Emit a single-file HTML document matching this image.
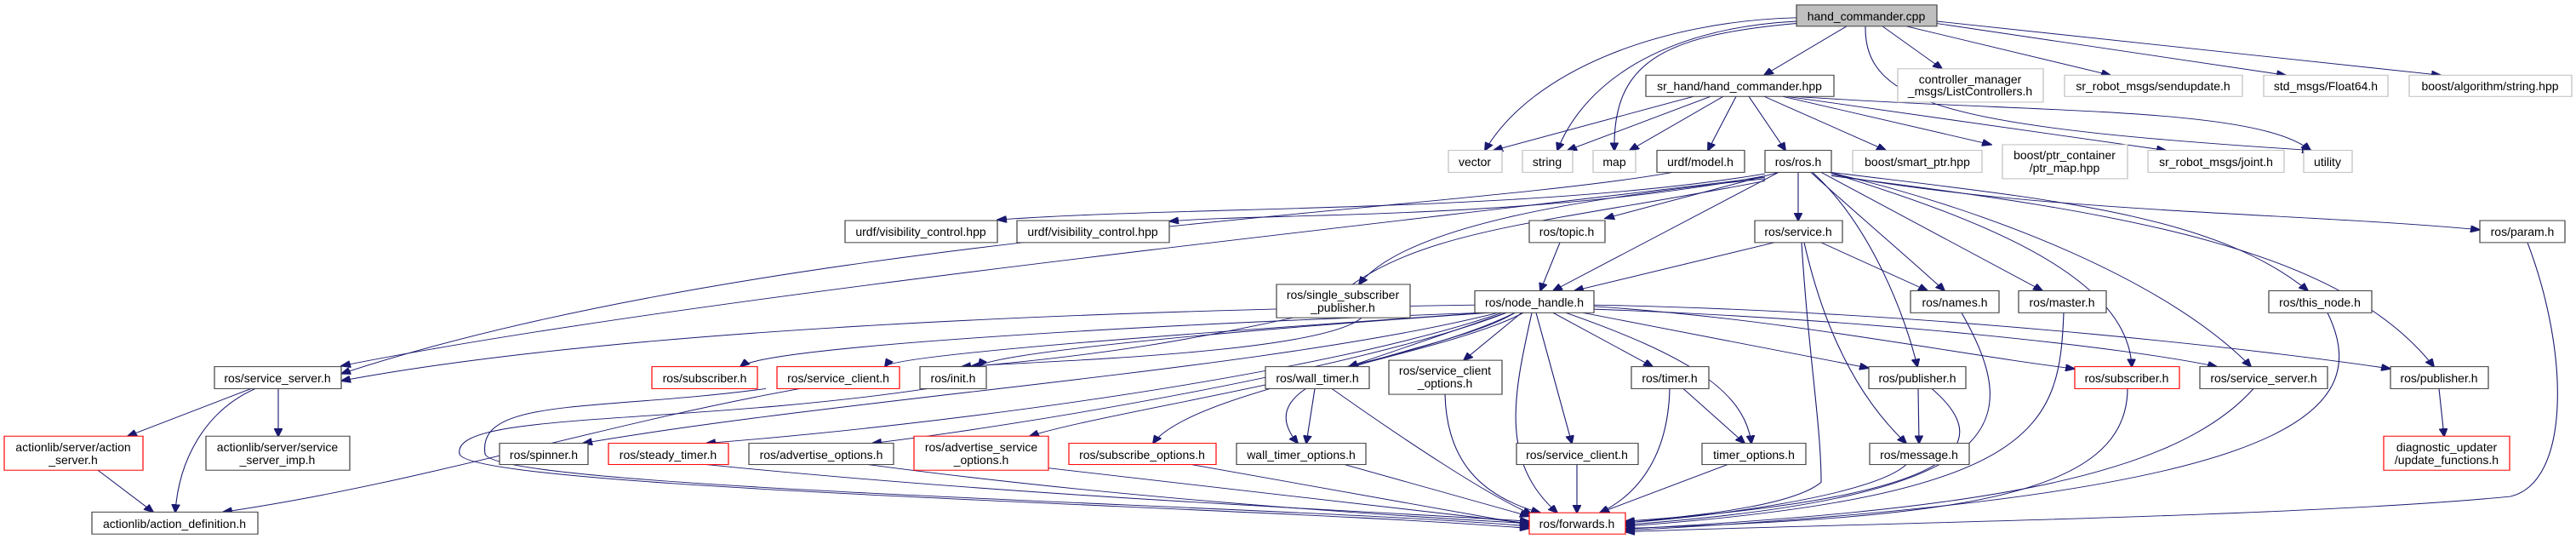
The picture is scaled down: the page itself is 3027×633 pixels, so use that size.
<!DOCTYPE html>
<html><head><meta charset="utf-8"><style>
html,body{margin:0;padding:0;background:#fff;overflow:hidden;}
svg{display:block;}
text{font-family:"Liberation Sans",sans-serif;font-size:14px;fill:#000;}
.b{fill:#fff;stroke:#404040;stroke-width:1.2}
.g{fill:#fff;stroke:#bfbfbf;stroke-width:1.2}
.r{fill:#fff;stroke:#ff0000;stroke-width:1.2}
path.e{fill:none;stroke:#191970;stroke-width:1.1;marker-end:url(#a)}
</style></head><body>
<svg width="3027" height="633" viewBox="0 0 3027 633" xmlns="http://www.w3.org/2000/svg">
<defs><marker id="a" markerWidth="12" markerHeight="10" refX="11" refY="5" orient="auto" markerUnits="userSpaceOnUse"><path d="M0,0 L12,5 L0,10 z" fill="#191970" stroke="#191970"/></marker></defs>
<g transform="scale(1,0.8329)">
<path class="e" d="M2111,25 C1950,30 1800,100 1745,212"/>
<path class="e" d="M2111,30 C1950,40 1860,120 1830,212"/>
<path class="e" d="M2111,33 C1950,50 1895,90 1897,212"/>
<path class="e" d="M2170,37 L2073,106"/>
<path class="e" d="M2192,37 C2190,150 2300,180 2716,212"/>
<path class="e" d="M2212,37 L2282,97"/>
<path class="e" d="M2240,37 L2480,106"/>
<path class="e" d="M2270,32 L2686,106"/>
<path class="e" d="M2276,30 L2868,106"/>
<path class="e" d="M1990,136 L1755,212"/>
<path class="e" d="M2010,136 L1842,212"/>
<path class="e" d="M2025,136 L1915,212"/>
<path class="e" d="M2040,136 L2007,212"/>
<path class="e" d="M2055,136 L2098,212"/>
<path class="e" d="M2073,136 L2216,212"/>
<path class="e" d="M2095,136 L2340,204"/>
<path class="e" d="M2100,136 L2545,212"/>
<path class="e" d="M2110,136 C2400,160 2650,150 2715,212"/>
<path class="e" d="M2090,243 L1886,308"/>
<path class="e" d="M2113,243 L2113,311"/>
<path class="e" d="M2090,243 L1825,410"/>
<path class="e" d="M2128,243 C2180,300 2230,350 2285,410"/>
<path class="e" d="M2140,243 L2400,410"/>
<path class="e" d="M2150,243 C2300,300 2500,380 2505,517"/>
<path class="e" d="M2150,243 C2350,300 2550,400 2645,517"/>
<path class="e" d="M2152,243 C2400,280 2600,300 2712,410"/>
<path class="e" d="M2152,246 C2400,300 2700,300 2914,324"/>
<path class="e" d="M2152,248 C2500,300 2750,350 2860,517"/>
<path class="e" d="M2130,243 C2200,320 2240,450 2253,517"/>
<path class="e" d="M2074,245 C1800,300 1400,290 1172,310"/>
<path class="e" d="M2074,248 C1800,310 1500,300 1374,312"/>
<path class="e" d="M2074,250 C1600,320 800,420 401,516"/>
<path class="e" d="M2074,252 C1850,280 1650,320 1597,401"/>
<path class="e" d="M2074,255 C1800,320 1650,320 1550,440 C1400,480 1300,500 1140,517"/>
<path class="e" d="M1965,243 C1700,300 900,330 401,527"/>
<path class="e" d="M1833,342 L1810,410"/>
<path class="e" d="M2085,342 L1850,410"/>
<path class="e" d="M2140,342 L2265,410"/>
<path class="e" d="M2117,342 C2125,500 2140,600 2140,680 C2100,720 1950,730 1910,738"/>
<path class="e" d="M2120,342 C2150,500 2200,580 2240,625"/>
<path class="e" d="M1600,448 C1550,500 1200,510 1130,517"/>
<path class="e" d="M1733,430 C1200,440 700,470 401,537"/>
<path class="e" d="M1740,441 C1300,460 900,490 870,517"/>
<path class="e" d="M1745,441 C1400,470 1050,500 1040,517"/>
<path class="e" d="M1750,441 C1400,470 1160,500 1150,517"/>
<path class="e" d="M1760,441 C1500,520 1000,560 685,625"/>
<path class="e" d="M1765,441 C1550,530 1100,600 830,625"/>
<path class="e" d="M1770,441 C1600,520 1200,600 1025,625"/>
<path class="e" d="M1780,441 C1650,520 1300,580 1210,615"/>
<path class="e" d="M1790,441 C1700,500 1400,550 1355,625"/>
<path class="e" d="M1770,441 L1585,517"/>
<path class="e" d="M1780,441 C1700,500 1450,520 1525,625"/>
<path class="e" d="M1788,441 L1720,508"/>
<path class="e" d="M1805,441 L1847,625"/>
<path class="e" d="M1800,441 C1780,550 1760,650 1830,723"/>
<path class="e" d="M1825,441 L1942,517"/>
<path class="e" d="M1840,441 C1980,500 2050,550 2058,625"/>
<path class="e" d="M1860,441 L2196,519"/>
<path class="e" d="M1873,432 C2100,450 2300,500 2438,520"/>
<path class="e" d="M1873,436 C2200,450 2500,490 2605,517"/>
<path class="e" d="M1873,430 C2300,440 2700,500 2809,520"/>
<path class="e" d="M295,548 L150,615"/>
<path class="e" d="M327,548 L327,615"/>
<path class="e" d="M300,548 C240,580 210,650 206,722"/>
<path class="e" d="M115,663 L180,722"/>
<path class="e" d="M940,548 C700,600 500,680 262,722"/>
<path class="e" d="M1090,548 C800,600 530,580 540,640 C550,690 1500,715 1797,745"/>
<path class="e" d="M900,548 C700,580 560,560 570,640 C580,690 1500,712 1797,742"/>
<path class="e" d="M1545,548 L1535,625"/>
<path class="e" d="M1565,548 C1650,620 1750,700 1800,725"/>
<path class="e" d="M1698,556 C1700,650 1740,700 1810,723"/>
<path class="e" d="M1962,548 C1960,650 1920,700 1880,723"/>
<path class="e" d="M1978,548 L2050,625"/>
<path class="e" d="M1853,655 L1853,723"/>
<path class="e" d="M2030,655 L1880,723"/>
<path class="e" d="M2254,548 L2255,625"/>
<path class="e" d="M2270,548 C2340,620 2330,700 1910,735"/>
<path class="e" d="M2240,655 C2200,700 2000,730 1910,737"/>
<path class="e" d="M2305,441 C2380,600 2360,700 1910,740"/>
<path class="e" d="M2425,441 C2420,600 2400,700 1910,742"/>
<path class="e" d="M2500,548 C2500,700 2300,730 1910,745"/>
<path class="e" d="M2648,548 C2550,680 2300,720 1910,746"/>
<path class="e" d="M2735,441 C2800,600 2650,700 1910,748"/>
<path class="e" d="M2970,342 C3020,500 3020,680 2950,700 C2700,730 2100,740 1910,750"/>
<path class="e" d="M2866,548 L2872,615"/>
<path class="e" d="M830,655 C1200,700 1600,720 1797,735"/>
<path class="e" d="M1020,655 C1300,700 1600,725 1797,738"/>
<path class="e" d="M1232,660 L1797,738"/>
<path class="e" d="M1400,655 L1797,740"/>
<path class="e" d="M1580,655 L1797,728"/>
<rect x="2111" y="7" width="165" height="30" fill="#bfbfbf" stroke="#404040" stroke-width="1.2"/>
<rect class="b" x="1934" y="106" width="221" height="30"/>
<rect class="g" x="2230" y="97" width="171" height="47"/>
<rect class="g" x="2426" y="106" width="209" height="30"/>
<rect class="g" x="2660" y="106" width="146" height="30"/>
<rect class="g" x="2831" y="106" width="191" height="30"/>
<rect class="g" x="1702" y="212" width="63" height="31"/>
<rect class="g" x="1789" y="212" width="59" height="31"/>
<rect class="g" x="1872" y="212" width="50" height="31"/>
<rect class="b" x="1947" y="212" width="103" height="31"/>
<rect class="b" x="2074" y="212" width="78" height="31"/>
<rect class="g" x="2177" y="212" width="152" height="31"/>
<rect class="g" x="2353" y="204" width="147" height="48"/>
<rect class="g" x="2524" y="212" width="160" height="31"/>
<rect class="g" x="2707" y="212" width="57" height="31"/>
<rect class="b" x="993" y="311" width="179" height="31"/>
<rect class="b" x="1195" y="311" width="179" height="31"/>
<rect class="b" x="1797" y="311" width="89" height="31"/>
<rect class="b" x="2062" y="311" width="103" height="31"/>
<rect class="b" x="2914" y="311" width="100" height="31"/>
<rect class="b" x="1500" y="401" width="157" height="47"/>
<rect class="b" x="1733" y="410" width="140" height="31"/>
<rect class="b" x="2245" y="410" width="104" height="31"/>
<rect class="b" x="2372" y="410" width="103" height="31"/>
<rect class="b" x="2666" y="410" width="121" height="31"/>
<rect class="b" x="252" y="517" width="149" height="31"/>
<rect class="r" x="766" y="517" width="124" height="31"/>
<rect class="r" x="913" y="517" width="144" height="31"/>
<rect class="b" x="1081" y="517" width="78" height="31"/>
<rect class="b" x="1487" y="517" width="122" height="31"/>
<rect class="b" x="1632" y="508" width="133" height="48"/>
<rect class="b" x="1917" y="517" width="91" height="31"/>
<rect class="b" x="2196" y="517" width="114" height="31"/>
<rect class="r" x="2438" y="517" width="123" height="31"/>
<rect class="b" x="2585" y="517" width="150" height="31"/>
<rect class="b" x="2809" y="517" width="115" height="31"/>
<rect class="r" x="5" y="615" width="163" height="48"/>
<rect class="b" x="242" y="615" width="169" height="48"/>
<rect class="b" x="587" y="625" width="104" height="30"/>
<rect class="r" x="715" y="625" width="141" height="30"/>
<rect class="b" x="880" y="625" width="170" height="30"/>
<rect class="r" x="1074" y="615" width="158" height="48"/>
<rect class="r" x="1256" y="625" width="173" height="30"/>
<rect class="b" x="1453" y="625" width="152" height="30"/>
<rect class="b" x="1782" y="625" width="143" height="30"/>
<rect class="b" x="2000" y="625" width="122" height="30"/>
<rect class="b" x="2197" y="625" width="117" height="30"/>
<rect class="r" x="2801" y="615" width="148" height="48"/>
<rect class="b" x="108" y="722" width="195" height="31"/>
<rect class="r" x="1797" y="723" width="113" height="30"/>
</g>
<g text-anchor="middle">
<text x="2193" y="24">hand_commander.cpp</text>
<text x="2044" y="106">sr_hand/hand_commander.hpp</text>
<text x="2315" y="98">controller_manager</text><text x="2315" y="112">_msgs/ListControllers.h</text>
<text x="2530" y="106">sr_robot_msgs/sendupdate.h</text>
<text x="2733" y="106">std_msgs/Float64.h</text>
<text x="2926" y="106">boost/algorithm/string.hpp</text>
<text x="1733" y="195">vector</text>
<text x="1818" y="195">string</text>
<text x="1897" y="195">map</text>
<text x="1998" y="195">urdf/model.h</text>
<text x="2113" y="195">ros/ros.h</text>
<text x="2253" y="195">boost/smart_ptr.hpp</text>
<text x="2426" y="187">boost/ptr_container</text><text x="2426" y="202">/ptr_map.hpp</text>
<text x="2604" y="195">sr_robot_msgs/joint.h</text>
<text x="2735" y="195">utility</text>
<text x="1082" y="277">urdf/visibility_control.hpp</text>
<text x="1284" y="277">urdf/visibility_control.hpp</text>
<text x="1841" y="277">ros/topic.h</text>
<text x="2113" y="277">ros/service.h</text>
<text x="2964" y="277">ros/param.h</text>
<text x="1578" y="351">ros/single_subscriber</text><text x="1578" y="366">_publisher.h</text>
<text x="1803" y="360">ros/node_handle.h</text>
<text x="2297" y="360">ros/names.h</text>
<text x="2423" y="360">ros/master.h</text>
<text x="2726" y="360">ros/this_node.h</text>
<text x="326" y="449">ros/service_server.h</text>
<text x="828" y="449">ros/subscriber.h</text>
<text x="985" y="449">ros/service_client.h</text>
<text x="1120" y="449">ros/init.h</text>
<text x="1548" y="449">ros/wall_timer.h</text>
<text x="1698" y="440">ros/service_client</text><text x="1698" y="455">_options.h</text>
<text x="1962" y="449">ros/timer.h</text>
<text x="2253" y="449">ros/publisher.h</text>
<text x="2499" y="449">ros/subscriber.h</text>
<text x="2660" y="449">ros/service_server.h</text>
<text x="2866" y="449">ros/publisher.h</text>
<text x="86" y="530">actionlib/server/action</text><text x="86" y="545">_server.h</text>
<text x="326" y="530">actionlib/server/service</text><text x="326" y="545">_server_imp.h</text>
<text x="639" y="539">ros/spinner.h</text>
<text x="785" y="539">ros/steady_timer.h</text>
<text x="965" y="539">ros/advertise_options.h</text>
<text x="1153" y="530">ros/advertise_service</text><text x="1153" y="545">_options.h</text>
<text x="1342" y="539">ros/subscribe_options.h</text>
<text x="1529" y="539">wall_timer_options.h</text>
<text x="1853" y="539">ros/service_client.h</text>
<text x="2061" y="539">timer_options.h</text>
<text x="2255" y="539">ros/message.h</text>
<text x="2875" y="530">diagnostic_updater</text><text x="2875" y="545">/update_functions.h</text>
<text x="205" y="620">actionlib/action_definition.h</text>
<text x="1853" y="620">ros/forwards.h</text>
</g>
</svg>
</body></html>
